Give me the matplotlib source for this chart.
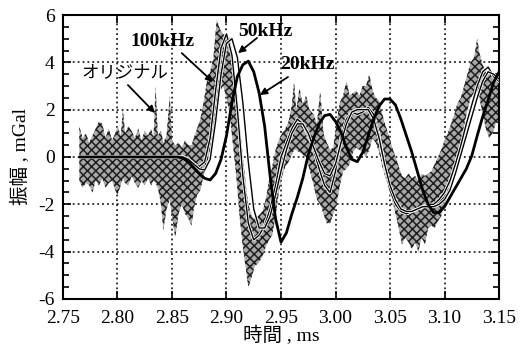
import numpy as np
import matplotlib
matplotlib.use("Agg")
import matplotlib.pyplot as plt
import matplotlib.patheffects as pe
from matplotlib.ticker import MultipleLocator

plt.rcParams['font.family'] = ['Liberation Serif', 'Noto Sans CJK JP']
plt.rcParams['hatch.linewidth'] = 1.1
plt.rcParams['axes.unicode_minus'] = False

# ---- data ----
t_fit = [2.765, 2.770, 2.775, 2.780, 2.785, 2.790, 2.795, 2.800, 2.805, 2.810,
         2.815, 2.820, 2.825, 2.830, 2.835, 2.840, 2.845, 2.850, 2.855, 2.860,
         2.865, 2.870, 2.875, 2.880, 2.885, 2.890, 2.895, 2.900, 2.905, 2.910,
         2.915, 2.920, 2.925, 2.930, 2.935, 2.940, 2.945, 2.950, 2.955, 2.960,
         2.965, 2.970, 2.975, 2.980, 2.985, 2.990, 2.995, 3.000, 3.005, 3.010,
         3.015, 3.020, 3.025, 3.030, 3.035, 3.040, 3.045, 3.050, 3.055, 3.060,
         3.065, 3.070, 3.075, 3.080, 3.085, 3.090, 3.095, 3.100, 3.105, 3.110,
         3.115, 3.120, 3.125, 3.130, 3.135, 3.140, 3.145, 3.150]

f20k = [0.0, 0.0, 0.0, 0.0, 0.0, 0.0, 0.0, 0.0, 0.0, 0.0,
        0.0, 0.0, 0.0, 0.0, 0.0, 0.0, 0.0, 0.0, 0.0, -0.05,
        -0.2, -0.45, -0.7, -0.9, -0.97, -0.7, -0.1, 0.9, 2.3, 3.4,
        3.9, 4.05, 3.6, 2.7, 1.3, -0.8, -2.6, -3.6, -3.2, -2.4,
        -1.7, -0.9, 0.1, 0.8, 1.4, 1.75, 1.8, 1.5, 1.05, 0.4,
        -0.1, -0.2, 0.2, 0.9, 1.6, 2.15, 2.45, 2.45, 2.2, 1.6,
        0.9, 0.2, -0.6, -1.4, -2.0, -2.35, -2.35, -2.1, -1.7, -1.3,
        -0.9, -0.5, 0.05, 0.9, 1.7, 2.4, 3.15, 3.6]

f100k = [0.0, 0.0, 0.0, 0.0, 0.0, 0.0, 0.0, 0.0, 0.0, 0.0,
         0.0, 0.0, 0.0, 0.0, 0.0, 0.0, 0.0, 0.0, 0.0, 0.0,
         -0.1, -0.3, -0.4, -0.2, 0.8, 2.8, 4.6, 5.2, 4.3, 2.0,
         -0.8, -2.8, -3.5, -3.3, -2.9, -2.2, -1.2, 0.0, 0.6, 1.2,
         1.6, 1.4, 0.9, 0.3, -0.5, -1.2, -1.5, -0.6, 0.8, 1.6,
         1.9, 1.8, 1.9, 2.1, 1.8, 0.9, -0.4, -1.4, -2.0, -2.3,
         -2.4, -2.3, -2.2, -2.1, -2.0, -2.0, -1.8, -1.5, -1.0, -0.3,
         0.5, 1.4, 2.2, 3.0, 3.6, 3.8, 3.4, 3.2]

f50k = [0.0, 0.0, 0.0, 0.0, 0.0, 0.0, 0.0, 0.0, 0.0, 0.0,
        0.0, 0.0, 0.0, 0.0, 0.0, 0.0, 0.0, 0.0, 0.0, 0.0,
        -0.1, -0.3, -0.5, -0.55, -0.1, 1.5, 3.5, 4.8, 5.0, 4.2,
        2.3, -0.2, -2.2, -3.0, -3.0, -2.5, -1.6, -0.6, 0.3, 1.0,
        1.4, 1.4, 1.0, 0.4, -0.2, -0.7, -0.8, -0.3, 0.6, 1.4,
        1.9, 2.0, 2.0, 2.0, 1.6, 0.8, -0.3, -1.2, -1.8, -2.2,
        -2.3, -2.3, -2.2, -2.1, -2.1, -2.1, -2.0, -1.8, -1.4, -0.7,
        0.1, 0.9, 1.7, 2.5, 3.2, 3.6, 3.5, 3.3]

# original (noisy) record: lower / upper envelope of the trace
t_orig = [2.765, 2.768, 2.771, 2.774, 2.777, 2.780, 2.783, 2.786, 2.789, 2.792,
          2.795, 2.798, 2.800, 2.803, 2.805, 2.807, 2.810, 2.813, 2.816, 2.819,
          2.822, 2.825, 2.828, 2.831, 2.833, 2.835, 2.837, 2.840, 2.842, 2.845,
          2.848, 2.850, 2.853, 2.856, 2.859, 2.862, 2.865, 2.868, 2.870, 2.873,
          2.876, 2.879, 2.882, 2.885, 2.888, 2.891, 2.894, 2.897, 2.900, 2.903,
          2.906, 2.909, 2.912, 2.915, 2.918, 2.920, 2.923, 2.926, 2.929, 2.933,
          2.936, 2.939, 2.942, 2.945, 2.948, 2.951, 2.954, 2.957, 2.960, 2.962,
          2.964, 2.967, 2.970, 2.973, 2.976, 2.980, 2.983, 2.986, 2.989, 2.992,
          2.995, 2.998, 3.001, 3.004, 3.007, 3.010, 3.013, 3.016, 3.019, 3.022,
          3.025, 3.028, 3.031, 3.034, 3.037, 3.040, 3.043, 3.046, 3.049, 3.052,
          3.055, 3.058, 3.061, 3.064, 3.067, 3.070, 3.073, 3.076, 3.079, 3.082,
          3.085, 3.088, 3.091, 3.094, 3.097, 3.100, 3.103, 3.106, 3.109, 3.112,
          3.115, 3.118, 3.121, 3.124, 3.127, 3.130, 3.132, 3.135, 3.138, 3.141,
          3.144, 3.147, 3.150]
orig_lo = [-1.0, -1.3, -1.1, -1.2, -1.5, -1.0, -1.2, -0.9, -1.3, -1.1,
           -1.0, -1.4, -1.6, -1.2, -0.9, -1.1, -1.2, -0.8, -1.1, -1.3,
           -1.0, -1.2, -0.9, -1.2, -1.0, -1.1, -1.3, -2.0, -3.1, -2.2,
           -1.8, -2.5, -3.4, -2.4, -2.0, -2.4, -2.6, -2.9, -2.2, -1.6,
           -1.4, -0.8, -0.3, 0.3, 1.0, 2.2, 2.8, 3.0, 2.5, 1.8,
           0.5, -0.8, -2.5, -3.8, -4.8, -5.5, -5.1, -4.6, -4.5, -4.2,
           -3.8, -3.5, -3.3, -2.5, -1.5, -0.8, -0.4, -0.2, 0.1, 0.3,
           0.3, 0.2, 0.1, 0.0, -0.5, -1.2, -1.8, -2.0, -2.4, -2.8,
           -2.8, -2.4, -2.0, -1.2, -0.6, -0.5, -0.3, 0.2, 0.4, 0.3,
           0.2, 0.0, 0.3, 0.8, 0.6, 0.2, -0.4, -0.9, -1.4, -1.8,
           -2.4, -3.0, -3.7, -3.4, -3.6, -3.9, -3.6, -4.0, -3.4, -3.7,
           -3.0, -2.9, -3.0, -2.7, -2.5, -1.9, -1.5, -1.0, -0.5, 0.0,
           0.6, 1.3, 2.0, 2.5, 2.7, 2.8, 2.5, 1.8, 1.2, 0.8,
           1.0, 1.4, 1.6]
orig_hi = [1.3, 0.8, 1.0, 0.6, 0.9, 1.2, 1.5, 1.4, 0.8, 1.2,
           0.7, 1.0, 1.3, 0.9, 2.0, 1.0, 1.3, 1.1, 0.8, 1.2,
           0.7, 1.1, 0.9, 1.2, 0.8, 3.0, 0.9, 1.1, 0.6, 0.9,
           2.6, 0.7, 0.5, 0.6, 0.4, 0.7, 0.5, 0.5, 0.8, 1.2,
           1.6, 2.3, 3.2, 3.6, 4.2, 5.8, 5.4, 5.2, 5.1, 5.0,
           4.2, 3.0, 1.5, 0.0, -1.3, -2.0, -2.5, -2.6, -2.5, -2.3,
           -1.8, -1.0, -0.4, 0.3, 0.7, 1.0, 1.2, 1.5, 2.2, 3.2,
           2.0, 2.9, 2.2, 2.6, 2.0, 1.8, 1.4, 2.8, 1.0, 0.6,
           0.3, 0.4, 1.5, 2.3, 2.6, 3.2, 2.6, 2.7, 2.8, 2.6,
           3.0, 3.0, 3.5, 2.8, 2.5, 2.4, 1.8, 1.3, 0.9, 0.4,
           0.0, -0.4, -0.8, -0.9, -0.7, -0.9, -0.8, -1.0, -0.7, -0.8,
           -0.7, -0.6, -0.3, 0.0, 0.3, 0.7, 1.0, 1.4, 1.8, 2.3,
           2.5, 3.0, 3.5, 4.0, 4.2, 5.0, 4.4, 3.9, 3.6, 3.5,
           3.5, 3.3, 3.2]

x_ticks = [2.75, 2.80, 2.85, 2.90, 2.95, 3.00, 3.05, 3.10, 3.15]
x_ticklabels = ["2.75", "2.80", "2.85", "2.90", "2.95", "3.00", "3.05", "3.10", "3.15"]
y_ticks = [-6, -4, -2, 0, 2, 4, 6]
y_ticklabels = ["-6", "-4", "-2", "0", "2", "4", "6"]

# ---- figure ----
fig = plt.figure(figsize=(5.27, 3.54), dpi=100)
ax = fig.add_axes([0.1195, 0.1554, 0.8274, 0.8022])

ax.fill_between(t_orig, orig_lo, orig_hi, facecolor='#a8a8a8', edgecolor='#1e1e1e',
                hatch='xxxx', linewidth=0, zorder=2)

halo = [pe.Stroke(linewidth=2.2, foreground='white'), pe.Normal()]
ax.plot(t_fit, f100k, color='black', lw=1.0, zorder=3, path_effects=halo)
ax.plot(t_fit, f50k, color='black', lw=1.0, zorder=3, path_effects=halo)
ax.plot(t_fit, f20k, color='black', lw=2.0, zorder=4, solid_capstyle='round')

ax.set_xlim(2.75, 3.15)
ax.set_ylim(-6, 6)
ax.set_xticks(x_ticks)
ax.set_xticklabels(x_ticklabels)
ax.set_yticks(y_ticks)
ax.set_yticklabels(y_ticklabels)
ax.yaxis.set_minor_locator(MultipleLocator(0.5))

ax.grid(True, which='major', color='black', linestyle=(0, (1.2, 2.0)), linewidth=1.1)
ax.tick_params(which='both', direction='in', top=True, right=True,
               labelsize=14, width=1.2)
ax.tick_params(axis='x', pad=8)
ax.tick_params(axis='y', pad=6)
ax.tick_params(which='major', length=6)
ax.tick_params(which='minor', length=4)
ax.tick_params(axis='x', which='minor', bottom=False, top=False)
for s in ax.spines.values():
    s.set_linewidth(1.5)

ax.set_xlabel("時間 , ms", fontsize=14, labelpad=-1)
ax.set_ylabel("振幅 , mGal", fontsize=14, labelpad=6)

tkw = dict(fontsize=14, fontweight='bold', ha='center', va='center', zorder=6)
ax.text(2.8064, 3.57, "オリジナル", fontsize=12.5, ha='center', va='center', zorder=6,
        family=['Noto Sans CJK JP'])
ax.text(2.8413, 4.86, "100kHz", **tkw)
ax.text(2.9355, 5.32, "50kHz", **tkw)
ax.text(2.9739, 3.89, "20kHz", **tkw)

akw = dict(arrowstyle='-|>', color='black', lw=1.3, mutation_scale=10,
           shrinkA=0, shrinkB=0)
ax.annotate("", xy=(2.8344, 1.86), xytext=(2.8096, 3.04), arrowprops=akw, zorder=6)
ax.annotate("", xy=(2.8876, 3.17), xytext=(2.8590, 4.39), arrowprops=akw, zorder=6)
ax.annotate("", xy=(2.9106, 4.39), xytext=(2.9280, 5.03), arrowprops=akw, zorder=6)
ax.annotate("", xy=(2.9307, 2.62), xytext=(2.9564, 3.38), arrowprops=akw, zorder=6)

fig.savefig("out.png", dpi=100)
